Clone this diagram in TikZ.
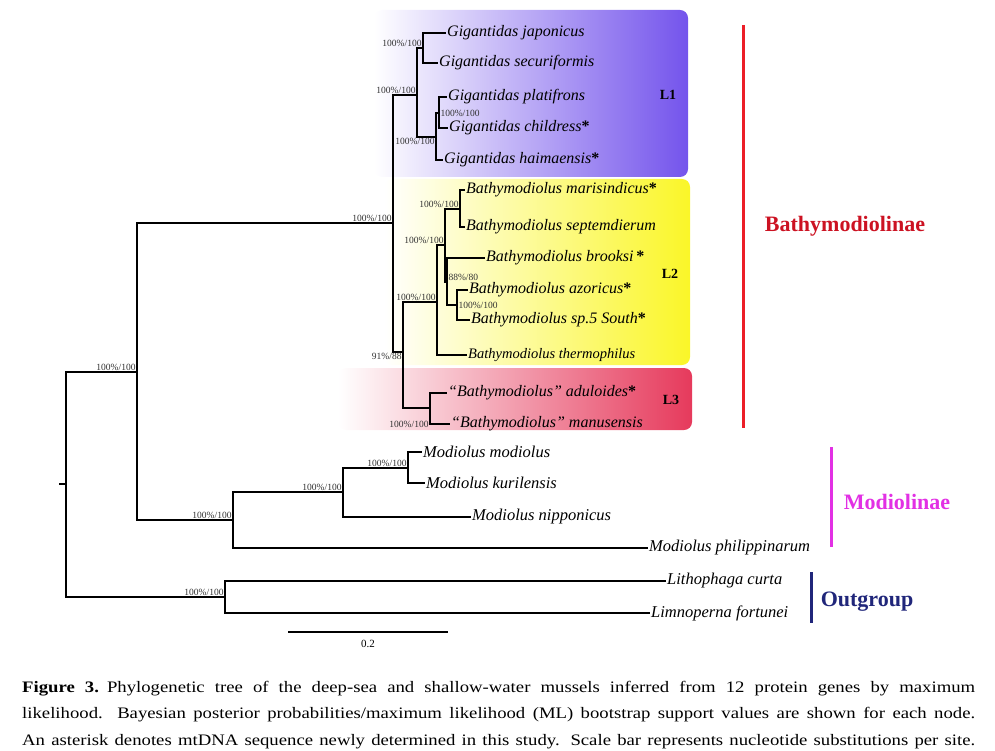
\documentclass[tikz,border=0pt]{standalone}
\usepackage{fontspec}
\setmainfont{Liberation Serif}
\newfontfamily\captionfont[FakeStretch=1.17]{Liberation Serif}
\usetikzlibrary{positioning}

\definecolor{lonepurple}{RGB}{116,84,236}
\definecolor{ltwoyellow}{RGB}{250,246,40}
\definecolor{lthreered}{RGB}{230,58,92}
\definecolor{bathybar}{RGB}{236,30,40}
\definecolor{bathytext}{RGB}{204,18,34}
\definecolor{modiomag}{RGB}{226,48,228}
\definecolor{outnavy}{RGB}{32,38,122}
\definecolor{supportgray}{RGB}{50,50,50}

\tikzset{
  branch/.style={line width=1.4pt},
  taxon/.style={anchor=west, inner sep=1pt, font=\fontsize{#1}{#1}\selectfont\itshape},
  taxon/.default=16,
  support/.style={inner sep=0pt, outer sep=1.5pt, text=supportgray, font=\fontsize{9.5}{10}\selectfont},
  cladebar/.style={line width=3pt},
  cladename/.style={font=\fontsize{22}{24}\selectfont\bfseries},
  lineage/.style={font=\fontsize{14}{14}\selectfont\bfseries},
}
\newcommand{\newseq}{{\upshape\bfseries*}}

\begin{document}
\begin{tikzpicture}[x=1pt,y=-1pt]
    \useasboundingbox (0,0) rectangle (995,751);

    % Lineage boxes
    \shade[rounded corners=8pt, left color=white, middle color=lonepurple!45, right color=lonepurple] (374,10) rectangle (688,177);
    \shade[rounded corners=8pt, left color=white, middle color=ltwoyellow!35, right color=ltwoyellow] (384,179) rectangle (690,365);
    \shade[rounded corners=8pt, left color=white, middle color=lthreered!40, right color=lthreered] (338,368) rectangle (692,430);
    \node[lineage] (L1) at (668,95) {L1};
    \node[lineage] (L2) at (670,274) {L2};
    \node[lineage] (L3) at (671,400) {L3};

    % Internal nodes
    \coordinate (stub) at (59,484);
    \coordinate (root) at (66,484);
    \coordinate (nb) at (137,372);
    \coordinate (nog) at (225,597);
    \coordinate (nbathy) at (393,223);
    \coordinate (nlone) at (417,95);
    \coordinate (nja) at (423,48);
    \coordinate (npl) at (436,137);
    \coordinate (npc) at (439,113);
    \coordinate (nnine) at (403,352);
    \coordinate (nltwo) at (437,302);
    \coordinate (nbr) at (445,245);
    \coordinate (nma) at (460,209);
    \coordinate (neight) at (447,282);
    \coordinate (naz) at (457,305);
    \coordinate (nlthree) at (430,408);
    \coordinate (nmod) at (233,520);
    \coordinate (nmtwo) at (343,492);
    \coordinate (nmthree) at (408,468);

    % Leaf tips
    \foreach \n/\x/\y in {jap/446/33, sec/438/63, pla/447/97, chi/448/128, hai/443/160,
                          mar/465/190, sep/465/227, bro/485/258, azo/468/290, sps/470/320, the/467/355,
                          adu/447/393, man/450/424,
                          mmo/422/452, kur/425/483, nip/471/517, phi/648/548,
                          lith/666/581, limn/650/613}
        \coordinate (t\n) at (\x,\y);

    % Branches
    \draw[branch] (stub) -- (root);
    \foreach \p/\c in {root/nb, root/nog, nb/nbathy, nb/nmod, nog/tlith, nog/tlimn,
                       nbathy/nlone, nbathy/nnine, nlone/nja, nlone/npl, nja/tjap, nja/tsec,
                       npl/npc, npl/thai, npc/tpla, npc/tchi,
                       nnine/nltwo, nnine/nlthree, nltwo/nbr, nltwo/tthe, nbr/nma, nbr/neight,
                       nma/tmar, nma/tsep, neight/tbro, neight/naz, naz/tazo, naz/tsps,
                       nlthree/tadu, nlthree/tman,
                       nmod/nmtwo, nmod/tphi, nmtwo/nmthree, nmtwo/tnip, nmthree/tmmo, nmthree/tkur}
        \draw[branch] (\p) |- (\c);

    % Taxa
    \node[taxon] (jap) at (tjap) {Gigantidas japonicus};
    \node[taxon] (sec) at (tsec) {Gigantidas securiformis};
    \node[taxon] (pla) at (tpla) {Gigantidas platifrons};
    \node[taxon] (chi) at (tchi) {Gigantidas childress\newseq};
    \node[taxon] (hai) at (thai) {Gigantidas haimaensis\newseq};
    \node[taxon] (mar) at (tmar) {Bathymodiolus marisindicus\newseq};
    \node[taxon] (sep) at (tsep) {Bathymodiolus septemdierum};
    \node[taxon] (bro) at (tbro) {Bathymodiolus brooksi\,\newseq};
    \node[taxon] (azo) at (tazo) {Bathymodiolus azoricus\newseq};
    \node[taxon] (sps) at (tsps) {Bathymodiolus sp.5 South\newseq};
    \node[taxon=14.5] (the) at (tthe) {Bathymodiolus thermophilus};
    \node[taxon] (adu) at (tadu) {“Bathymodiolus” aduloides\newseq};
    \node[taxon] (man) at (tman) {“Bathymodiolus” manusensis};
    \node[taxon=16.5] (mmo) at (tmmo) {Modiolus modiolus};
    \node[taxon=16.5] (kur) at (tkur) {Modiolus kurilensis};
    \node[taxon=16.5] (nip) at (tnip) {Modiolus nipponicus};
    \node[taxon=16.5] (phi) at (tphi) {Modiolus philippinarum};
    \node[taxon=16.5] (lith) at (tlith) {Lithophaga curta};
    \node[taxon=16.5] (limn) at (tlimn) {Limnoperna fortunei};

    % Support values
    \foreach \n/\a/\pp/\bs in {nb/south east/100/100, nog/south east/100/100, nbathy/south east/100/100,
                               nlone/south east/100/100, nja/south east/100/100, npl/north east/100/100,
                               npc/west/100/100, nltwo/south east/100/100, nbr/south east/100/100,
                               nma/south east/100/100, neight/south west/88/80, naz/west/100/100,
                               nnine/north east/91/88, nmod/south east/100/100,
                               nmtwo/south east/100/100, nmthree/south east/100/100}
        \node[support, anchor=\a] (s\n) at (\n) {\pp\%/\bs};
    \node[support, anchor=east] (snlthree) at (nlthree |- tman) {100\%/100};

    % Clade bars
    \coordinate (bathytop) at (743,25);
    \coordinate (bathybot) at (743,428);
    \coordinate (modiotop) at (831,447);
    \coordinate (modiobot) at (831,547);
    \coordinate (outtop) at (811,572);
    \coordinate (outbot) at (811,623);
    \draw[cladebar, bathybar] (bathytop) -- (bathybot);
    \draw[cladebar, modiomag] (modiotop) -- (modiobot);
    \draw[cladebar, outnavy] (outtop) -- (outbot);
    \node[cladename, text=bathytext] (bathyname) at (845,226) {Bathymodiolinae};
    \node[cladename, text=modiomag] (modioname) at (897,502) {Modiolinae};
    \node[cladename, text=outnavy] (outname) at (867,602) {Outgroup};

    % Scale bar
    \coordinate (sbl) at (288,632);
    \coordinate (sbr) at (448,632);
    \draw[branch] (sbl) -- (sbr) node[midway, below=7pt, inner sep=0pt, font=\fontsize{11}{11}\selectfont] (sblabel) {0.2};

    % Caption
    \node[anchor=north west, inner sep=0pt, text width=953pt, align=justify,
          font=\captionfont\fontsize{16}{26.5}\selectfont] (caption) at (22,681)
        {\parfillskip=0pt \textbf{Figure 3.}\enspace Phylogenetic tree of the deep-sea and shallow-water mussels inferred from 12 protein genes by maximum\linebreak
         likelihood. Bayesian posterior probabilities/maximum likelihood (ML) bootstrap support values are shown for each node.\linebreak
         An asterisk denotes mtDNA sequence newly determined in this study. Scale bar represents nucleotide substitutions per site.\par};
\end{tikzpicture}
\end{document}
